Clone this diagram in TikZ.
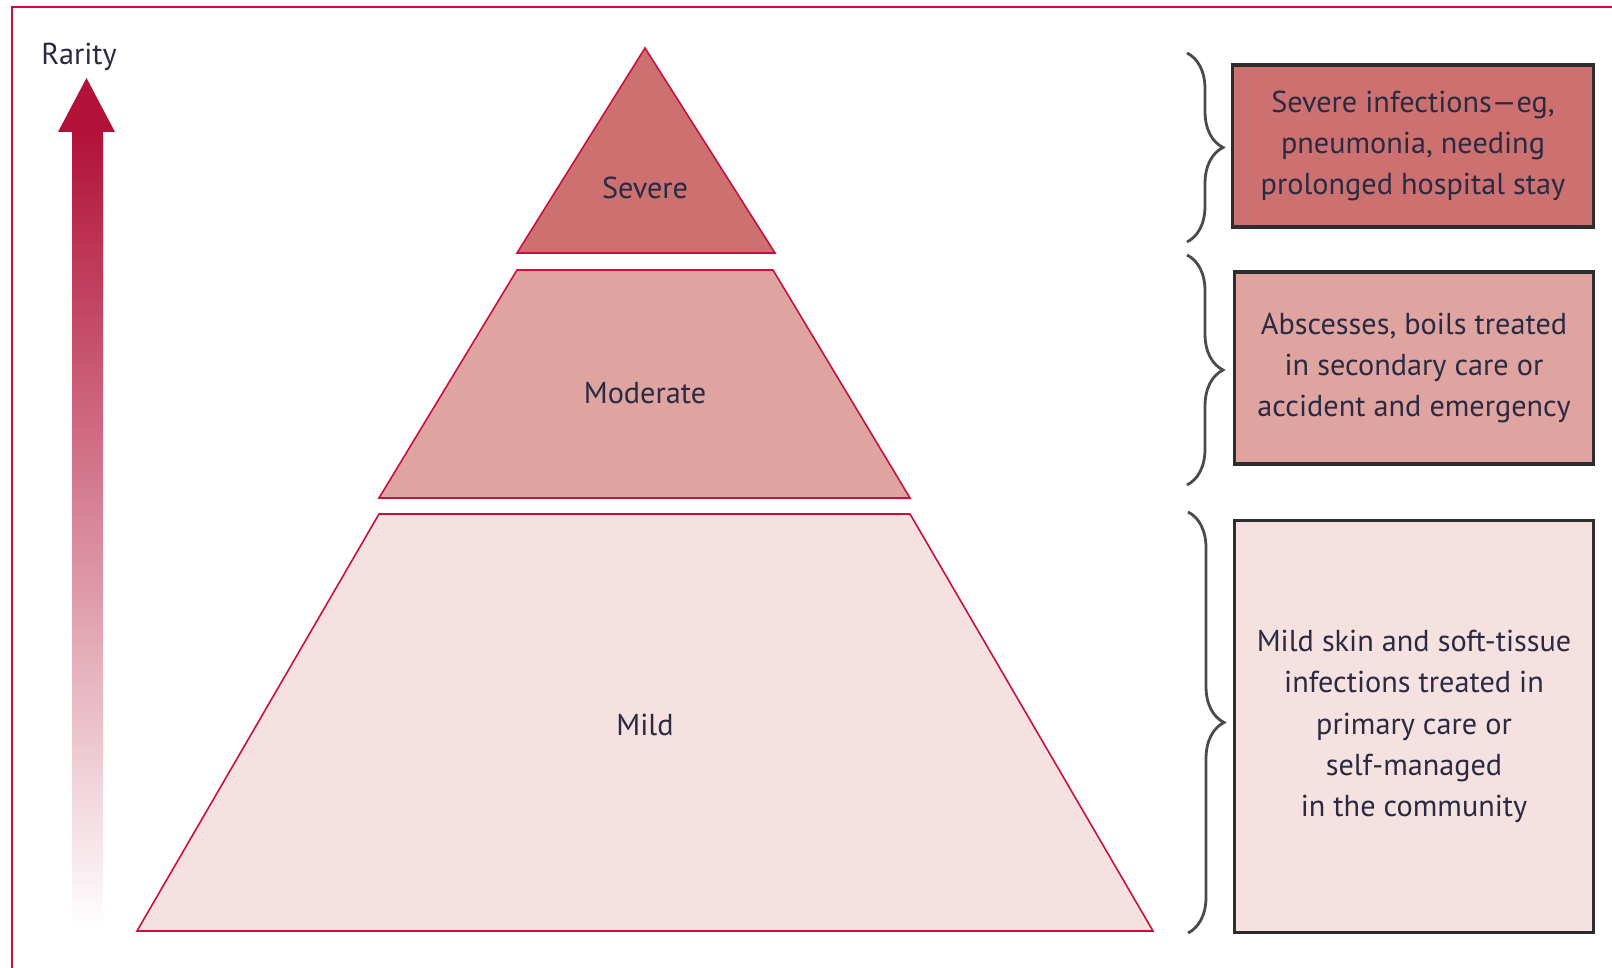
\documentclass[tikz,border=0pt]{standalone}
\usepackage{fontspec}
\setmainfont{PT Sans}
\usetikzlibrary{arrows.meta,positioning,decorations.pathreplacing}
\definecolor{severeTier}{RGB}{204,112,112}
\definecolor{moderateTier}{RGB}{223,163,160}
\definecolor{mildTier}{RGB}{245,225,223}
\definecolor{edgeRed}{RGB}{200,16,62}
\definecolor{rarityRed}{RGB}{178,18,56}
\definecolor{rarityMid}{RGB}{212,130,128}
\definecolor{braceGray}{RGB}{75,75,75}
\definecolor{boxEdge}{RGB}{45,45,45}
\definecolor{inkText}{RGB}{42,42,66}
\tikzset{
    every node/.append style={align=center,text=inkText,font=\fontsize{8.6}{11.7}\selectfont},
    tier/.style={draw=edgeRed,line width=0.45pt,line join=miter},
    box/.style={rectangle,draw=boxEdge,line width=0.9pt,inner sep=2pt,minimum width=3.58cm},
    brc/.style={decorate,decoration={brace,amplitude=0.36cm},draw=braceGray,line width=0.8pt},
    lbl/.style={inner sep=0pt}
}
\begin{document}
\begin{tikzpicture}[x=0.01cm,y=-0.01cm]
    \useasboundingbox (0,0) rectangle (1612,968);
    % frame
    \draw[edgeRed,line width=0.6pt] (12,968) -- (12,7) -- (1612,7);

    % rarity arrow
    \shade[top color=rarityRed,middle color=rarityMid,bottom color=white] (72,132) rectangle (103,930);
    \fill[rarityRed] (58,132) -- (86.5,78) -- (115,132) -- cycle;
    \node[lbl] (rarity) at (79,57) {Rarity};

    % pyramid
    \filldraw[tier,fill=severeTier]   (645,48) -- (775,253) -- (517,253) -- cycle;
    \filldraw[tier,fill=moderateTier] (517,270) -- (773,270) -- (910,498) -- (379,498) -- cycle;
    \filldraw[tier,fill=mildTier]     (379,514) -- (910,514) -- (1153,931) -- (137,931) -- cycle;
    \node[lbl] (severe)   at (645,188) {Severe};
    \node[lbl] (moderate) at (645,393) {Moderate};
    \node[lbl] (mild)     at (645,725) {Mild};

    % descriptions
    \node[box,fill=severeTier,minimum width=3.6cm,minimum height=1.62cm]   (sevbox) at (1413,146)   {Severe infections---eg,\\pneumonia, needing\\prolonged hospital stay};
    \node[box,fill=moderateTier,minimum height=1.92cm] (modbox) at (1414,368)   {Abscesses, boils treated\\in secondary care or\\accident and emergency};
    \node[box,fill=mildTier,minimum height=4.11cm]     (mildbox) at (1414,726.5) {Mild skin and soft-tissue\\infections treated in\\primary care or\\self-managed\\in the community};

    \draw[brc] (1187,53) -- (1187,242);
    \draw[brc] (1187,255) -- (1187,485);
    \draw[brc] (1188,512) -- (1188,933);
\end{tikzpicture}
\end{document}
